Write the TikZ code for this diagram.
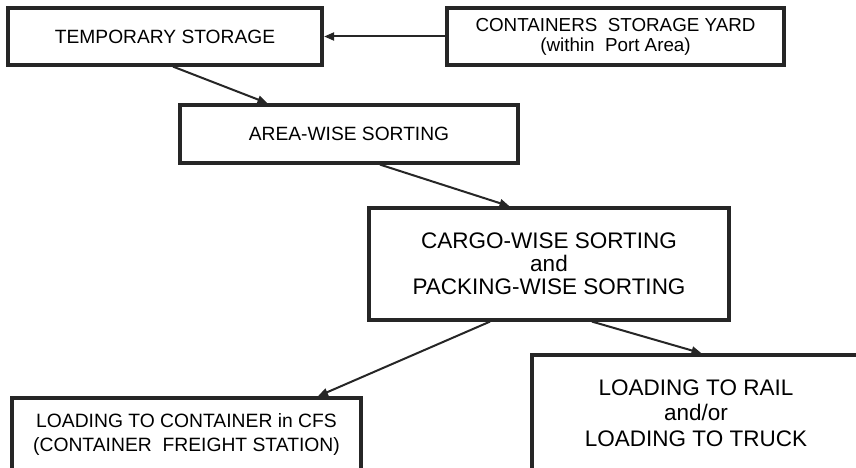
\documentclass[tikz,border=0pt]{standalone}
\usepackage{fontspec}
\setmainfont{Liberation Sans}
\usetikzlibrary{arrows.meta}
\begin{document}
\begin{tikzpicture}[x=1pt,y=-1pt,
  box/.style={draw=black!85, line width=3.2pt, fill=white, align=center, inner sep=0pt},
  arr/.style={draw=black!85, line width=2pt, -{Triangle[length=10pt,width=8pt]}, shorten >=0.5pt}]
\useasboundingbox (0,0) rectangle (856,468);
\clip (0,0) rectangle (856,468);
\node[box, minimum width=314pt, minimum height=57pt, font=\fontsize{19.2}{23}\selectfont] (b1) at (165,36.5) {TEMPORARY STORAGE};
\node[box, minimum width=337pt, minimum height=57pt, font=\fontsize{18.8}{20}\selectfont] (b2) at (615.5,36.5) {CONTAINERS\ \ STORAGE YARD\\(within\ \ Port Area)};
\node[box, minimum width=338pt, minimum height=58pt, font=\fontsize{19.2}{23}\selectfont] (b3) at (349,134) {AREA-WISE SORTING};
\node[box, minimum width=360pt, minimum height=112pt, font=\fontsize{22.5}{23}\selectfont] (b4) at (549,264) {CARGO-WISE SORTING\\and\\PACKING-WISE SORTING};
\node[box, minimum width=349pt, minimum height=74pt, font=\fontsize{19.3}{24}\selectfont] (b5) at (186.5,435) {LOADING TO CONTAINER in CFS\\(CONTAINER\ \ FREIGHT STATION)};
\node[box, minimum width=328pt, minimum height=116pt, font=\fontsize{22.5}{25.5}\selectfont] (b6) at (696,413) {LOADING TO RAIL\\and/or\\LOADING TO TRUCK};
\draw[arr] (b2.west) -- (b1.east);
\draw[arr] ([xshift=8pt]b1.south) -- ([xshift=-81pt]b3.north);
\draw[arr] ([xshift=31pt]b3.south) -- ([xshift=-39pt]b4.north);
\draw[arr] ([xshift=-59pt]b4.south) -- ([xshift=131pt]b5.north);
\draw[arr] ([xshift=43pt]b4.south) -- ([xshift=6pt]b6.north);
\end{tikzpicture}
\end{document}
